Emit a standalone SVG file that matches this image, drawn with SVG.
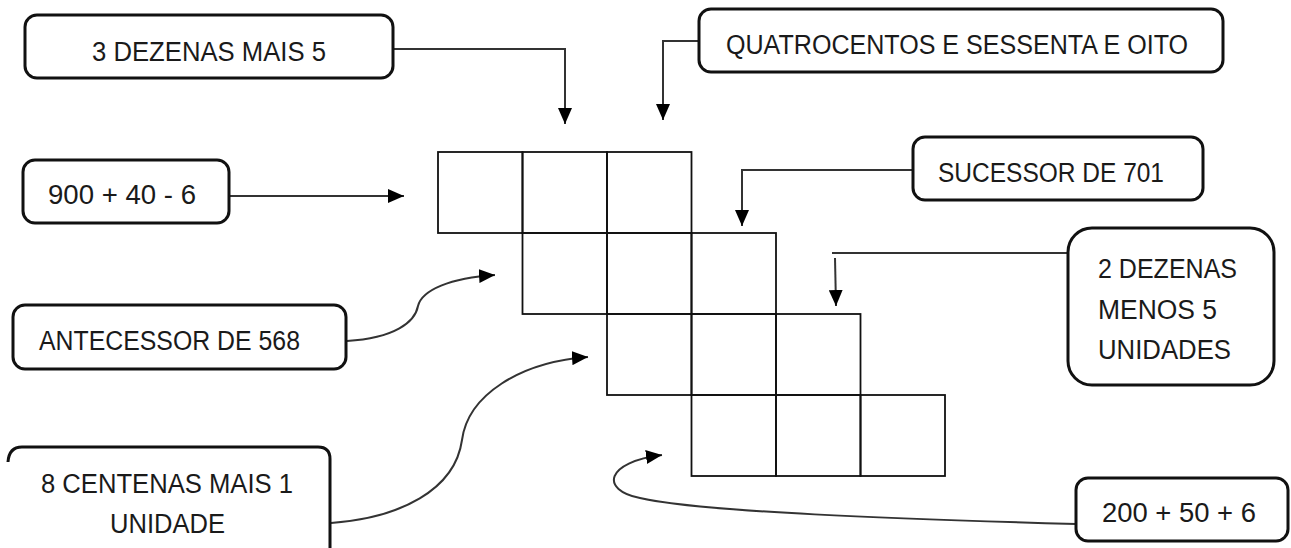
<svg xmlns="http://www.w3.org/2000/svg" width="1291" height="548" viewBox="0 0 1291 548">
<style>
.box{fill:#fff;stroke:#111;stroke-width:3}
.t{font-family:"Liberation Sans",Arial,sans-serif;font-size:27px;fill:#1a1a1a}
.c{text-anchor:middle}
.cell{fill:none;stroke:#111;stroke-width:1.8}
.con{fill:none;stroke:#333;stroke-width:2;marker-end:url(#ah)}
.ln{fill:none;stroke:#333;stroke-width:2}
</style>
<defs>
<marker id="ah" viewBox="0 0 16 14" refX="16" refY="7" markerWidth="16" markerHeight="14" markerUnits="userSpaceOnUse" orient="auto">
<path d="M0,0 L16,7 L0,14 z" fill="#000"/>
</marker>
</defs>
<rect width="1291" height="548" fill="#fff"/>

<g id="grid">
<rect class="cell" x="438" y="152" width="84.5" height="81"/>
<rect class="cell" x="522.5" y="152" width="84.5" height="81"/>
<rect class="cell" x="607" y="152" width="84.5" height="81"/>
<rect class="cell" x="522.5" y="233" width="84.5" height="81"/>
<rect class="cell" x="607" y="233" width="84.5" height="81"/>
<rect class="cell" x="691.5" y="233" width="84.5" height="81"/>
<rect class="cell" x="607" y="314" width="84.5" height="81"/>
<rect class="cell" x="691.5" y="314" width="84.5" height="81"/>
<rect class="cell" x="776" y="314" width="84.5" height="81"/>
<rect class="cell" x="691.5" y="395" width="84.5" height="81"/>
<rect class="cell" x="776" y="395" width="84.5" height="81"/>
<rect class="cell" x="860.5" y="395" width="84.5" height="81"/>
</g>

<g id="connectors">
<path class="con" d="M393,49 H565 V124"/>
<path class="con" d="M699,41 H663 V120"/>
<path class="con" d="M229,196 H404"/>
<path class="con" d="M913,170 H742 V226"/>
<path class="ln" d="M1068,253 H832"/>
<path class="con" d="M835,258 L836,306"/>
<path class="con" d="M347,341 C395,338 415,322 418,306 C422,290 450,278 495,275"/>
<path class="con" d="M331,523 C400,518 455,490 462,440 C468,395 520,362 588,357"/>
<path class="con" d="M1076,524 C900,519 700,512 640,498 C600,490 605,462 662,455"/>
</g>

<g id="n1">
<rect class="box" x="25" y="15" width="368" height="63" rx="12"/>
<text class="t c" x="209" y="61" textLength="234" lengthAdjust="spacingAndGlyphs">3 DEZENAS MAIS 5</text>
</g>
<g id="n2">
<rect class="box" x="699" y="9" width="524" height="63" rx="12"/>
<text class="t c" x="957" y="54" textLength="462" lengthAdjust="spacingAndGlyphs">QUATROCENTOS E SESSENTA E OITO</text>
</g>
<g id="n3">
<rect class="box" x="23" y="160" width="206" height="63" rx="12"/>
<text class="t c" x="122" y="204" textLength="148" lengthAdjust="spacingAndGlyphs">900 + 40 - 6</text>
</g>
<g id="n4">
<rect class="box" x="913" y="137" width="290" height="63" rx="12"/>
<text class="t c" x="1051" y="182" textLength="226" lengthAdjust="spacingAndGlyphs">SUCESSOR DE 701</text>
</g>
<g id="n5">
<rect class="box" x="1068" y="228" width="206" height="157" rx="24"/>
<text class="t" x="1098" y="278" textLength="139" lengthAdjust="spacingAndGlyphs">2 DEZENAS</text>
<text class="t" x="1098" y="319" textLength="119" lengthAdjust="spacingAndGlyphs">MENOS 5</text>
<text class="t" x="1098" y="359" textLength="133" lengthAdjust="spacingAndGlyphs">UNIDADES</text>
</g>
<g id="n6">
<rect class="box" x="13" y="305" width="333" height="64" rx="12"/>
<text class="t" x="39" y="350" textLength="261" lengthAdjust="spacingAndGlyphs">ANTECESSOR DE 568</text>
</g>
<g id="n7">
<path class="box" d="M8,462 Q9,447 22,447 H318 Q330,447 330,459 V552"/>
<text class="t c" x="167" y="493" textLength="252" lengthAdjust="spacingAndGlyphs">8 CENTENAS MAIS 1</text>
<text class="t c" x="167.5" y="533" textLength="115" lengthAdjust="spacingAndGlyphs">UNIDADE</text>
</g>
<g id="n8">
<rect class="box" x="1076" y="478" width="212" height="63" rx="12"/>
<text class="t c" x="1179" y="522" textLength="154" lengthAdjust="spacingAndGlyphs">200 + 50 + 6</text>
</g>
</svg>
